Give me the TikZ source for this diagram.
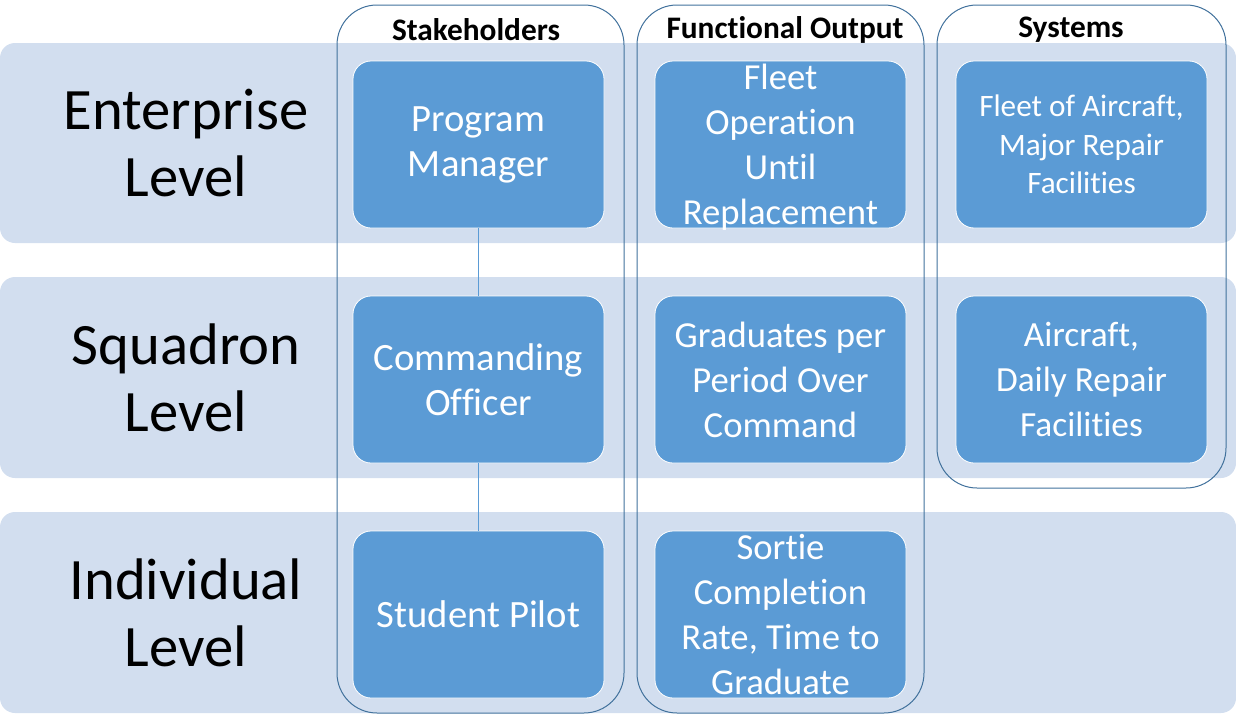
\documentclass[tikz,border=0pt]{standalone}
\usepackage{fontspec}
\setmainfont{Carlito}[Ligatures=NoCommon]
\usepackage{tikz}

\definecolor{bandblue}{RGB}{210,222,239}
\definecolor{boxblue}{RGB}{91,155,213}
\definecolor{colblue}{RGB}{65,113,156}

\begin{document}
\begin{tikzpicture}[x=0.75pt,y=-0.75pt,
  band/.style={fill=bandblue,rounded corners=11.25pt},
  column/.style={draw=colblue,line width=0.75pt,rounded corners=30pt},
  box/.style={draw=white,line width=0.6pt,fill=boxblue,rounded corners=13.5pt,
    minimum width=188.25pt,minimum height=125.25pt,inner sep=0pt},
  boxtxt/.style={text=white,align=center,inner sep=0pt,font=\fontsize{27.5}{33.75}\selectfont},
  lvltxt/.style={align=center,inner sep=0pt,font=\fontsize{44}{50}\selectfont},
  headtxt/.style={inner sep=0pt,font=\bfseries\fontsize{23.5}{26}\selectfont},
  link/.style={draw=boxblue,line width=0.75pt}]
  \useasboundingbox (0,0) rectangle (1236,725);

  % level bands
  \fill[band] (0,43) rectangle (1236,243);
  \fill[band] (0,277) rectangle (1236,478);
  \fill[band] (0,512) rectangle (1236,713);

  % level labels
  \node[lvltxt] (ent) at (186,143) {Enterprise\\Level};
  \node[lvltxt] (sqd) at (186,377.5) {Squadron\\Level};
  \node[lvltxt] (ind) at (186,612.5) {Individual\\Level};

  % column frames
  \draw[column] (337,5) rectangle (624,713);
  \draw[column] (637,5) rectangle (924,713);
  \draw[column] (937,5) rectangle (1226,488);

  % column headers
  \node[headtxt] (hstake) at (476,30) {Stakeholders};
  \node[headtxt] (hfunc) at (785,30) {Functional Output};
  \node[headtxt] (hsys) at (1071,30) {Systems};

  % stakeholders
  \node[box] (pm) at (478.5,144.5) {};
  \node[box] (co) at (478.5,379.5) {};
  \node[box] (sp) at (478.5,614.5) {};
  \node[boxtxt,font=\fontsize{29}{33.75}\selectfont] (pmt) at (pm) {Program\\Manager};
  \node[boxtxt,font=\fontsize{29}{33.75}\selectfont] (cot) at (co) {Commanding\\Officer};
  \node[boxtxt,font=\fontsize{29}{33.75}\selectfont] (spt) at (sp) {Student Pilot};

  % functional output
  \node[box] (fo1) at (780.5,144.5) {};
  \node[box] (fo2) at (780.5,379.5) {};
  \node[box] (fo3) at (780.5,614.5) {};
  \node[boxtxt] (fo1t) at ([yshift=-2pt]fo1) {Fleet\\Operation\\Until\\Replacement};
  \node[boxtxt] (fo2t) at (fo2) {Graduates per\\Period Over\\Command};
  \node[boxtxt] (fo3t) at (fo3) {Sortie\\Completion\\Rate, Time to\\Graduate};

  % systems
  \node[box] (sys1) at (1081.5,144.5) {};
  \node[box] (sys2) at (1081.5,379.5) {};
  \node[boxtxt,font=\fontsize{23.4}{29}\selectfont] (sys1t) at (sys1) {Fleet of Aircraft,\\Major Repair\\Facilities};
  \node[boxtxt,font=\fontsize{26.5}{33.75}\selectfont] (sys2t) at (sys2) {Aircraft,\\Daily Repair\\Facilities};

  % chain of command
  \draw[link] (pm.south) -- (co.north);
  \draw[link] (co.south) -- (sp.north);

\end{tikzpicture}
\end{document}
